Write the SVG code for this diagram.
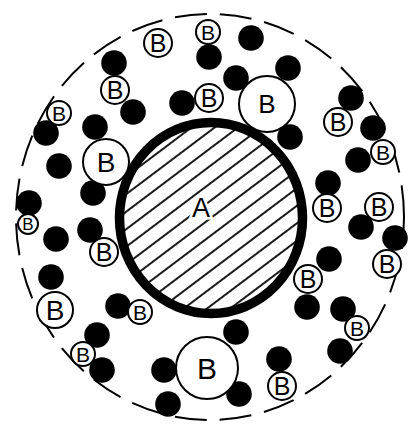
<svg xmlns="http://www.w3.org/2000/svg" width="409" height="424" viewBox="0 0 409 424">
<defs>
<pattern id="hatch" patternUnits="userSpaceOnUse" width="20" height="14" patternTransform="rotate(-37)">
<line x1="0" y1="7" x2="20" y2="7" stroke="#000" stroke-width="1.8"/>
</pattern>
</defs>
<style>
.dot{fill:#000}
.b circle{fill:#fff;stroke:#000;stroke-width:2}
text{font-family:"Liberation Sans",Arial,sans-serif;text-anchor:middle;fill:#000}
</style>
<rect width="409" height="424" fill="#fff"/>
<g id="boundary"><ellipse cx="210" cy="217" rx="194" ry="203" fill="none" stroke="#000" stroke-width="2" stroke-dasharray="32 13"/></g>
<g id="A">
<ellipse cx="211" cy="218" rx="91.5" ry="95.5" fill="url(#hatch)" stroke="#000" stroke-width="9.5"/>
<text x="201" y="217" font-size="27" stroke="#fff" stroke-width="5" paint-order="stroke">A</text>
</g>
<g id="dots">
<circle class="dot" cx="114" cy="63" r="12.8"/>
<circle class="dot" cx="133" cy="112" r="12.8"/>
<circle class="dot" cx="46" cy="133" r="12.8"/>
<circle class="dot" cx="95" cy="127" r="12.8"/>
<circle class="dot" cx="59" cy="166" r="12.8"/>
<circle class="dot" cx="93" cy="193" r="12.8"/>
<circle class="dot" cx="182" cy="103" r="12.8"/>
<circle class="dot" cx="209" cy="57" r="12.8"/>
<circle class="dot" cx="251" cy="38" r="12.8"/>
<circle class="dot" cx="236" cy="78" r="12.8"/>
<circle class="dot" cx="288" cy="68" r="12.8"/>
<circle class="dot" cx="290" cy="137" r="12.8"/>
<circle class="dot" cx="351" cy="98" r="12.8"/>
<circle class="dot" cx="373" cy="128" r="12.8"/>
<circle class="dot" cx="358" cy="160" r="12.8"/>
<circle class="dot" cx="328" cy="183" r="12.8"/>
<circle class="dot" cx="361" cy="227" r="12.8"/>
<circle class="dot" cx="395" cy="238" r="12.8"/>
<circle class="dot" cx="329" cy="259" r="12.8"/>
<circle class="dot" cx="307" cy="307" r="12.8"/>
<circle class="dot" cx="343" cy="309" r="12.8"/>
<circle class="dot" cx="340" cy="351" r="12.8"/>
<circle class="dot" cx="236" cy="332" r="12.8"/>
<circle class="dot" cx="239" cy="394" r="12.8"/>
<circle class="dot" cx="279" cy="359" r="12.8"/>
<circle class="dot" cx="164" cy="370" r="12.8"/>
<circle class="dot" cx="168" cy="404" r="12.8"/>
<circle class="dot" cx="29" cy="203" r="12.8"/>
<circle class="dot" cx="56" cy="239" r="12.8"/>
<circle class="dot" cx="90" cy="230" r="12.8"/>
<circle class="dot" cx="51" cy="277" r="12.8"/>
<circle class="dot" cx="118" cy="306" r="12.8"/>
<circle class="dot" cx="97" cy="335" r="12.8"/>
<circle class="dot" cx="102" cy="370" r="12.8"/>
</g>
<g id="b1" class="b"><circle cx="158" cy="43" r="14"/><text x="158" y="52" font-size="25">B</text></g>
<g id="b2" class="b"><circle cx="208" cy="32" r="12"/><text x="208" y="39.6" font-size="21">B</text></g>
<g id="b3" class="b"><circle cx="115" cy="90" r="14"/><text x="115" y="99" font-size="25">B</text></g>
<g id="b4" class="b"><circle cx="59" cy="113" r="12"/><text x="59" y="120.6" font-size="21">B</text></g>
<g id="b5" class="b"><circle cx="106" cy="162" r="23"/><text x="106" y="172" font-size="28">B</text></g>
<g id="b6" class="b"><circle cx="209" cy="98" r="14"/><text x="209" y="107" font-size="25">B</text></g>
<g id="b7" class="b"><circle cx="267" cy="104" r="28"/><text x="267" y="113.4" font-size="26">B</text></g>
<g id="b8" class="b"><circle cx="338" cy="122" r="14"/><text x="338" y="131" font-size="25">B</text></g>
<g id="b9" class="b"><circle cx="383" cy="152" r="12"/><text x="383" y="159.6" font-size="21">B</text></g>
<g id="b10" class="b"><circle cx="327" cy="208" r="14"/><text x="327" y="217" font-size="25">B</text></g>
<g id="b11" class="b"><circle cx="379" cy="207" r="14"/><text x="379" y="216" font-size="25">B</text></g>
<g id="b12" class="b"><circle cx="387" cy="264" r="14"/><text x="387" y="273" font-size="25">B</text></g>
<g id="b13" class="b"><circle cx="308" cy="279" r="14"/><text x="308" y="288" font-size="25">B</text></g>
<g id="b14" class="b"><circle cx="357" cy="328" r="12"/><text x="357" y="335.6" font-size="21">B</text></g>
<g id="b15" class="b"><circle cx="282" cy="386" r="14"/><text x="282" y="395" font-size="25">B</text></g>
<g id="b16" class="b"><circle cx="207" cy="368" r="31"/><text x="207" y="378.8" font-size="30">B</text></g>
<g id="b17" class="b"><circle cx="140" cy="312" r="12"/><text x="140" y="319.6" font-size="21">B</text></g>
<g id="b18" class="b"><circle cx="28" cy="224" r="10"/><text x="28" y="230.1" font-size="17">B</text></g>
<g id="b19" class="b"><circle cx="104" cy="252" r="14"/><text x="104" y="261" font-size="25">B</text></g>
<g id="b20" class="b"><circle cx="55" cy="310" r="18"/><text x="55" y="320" font-size="28">B</text></g>
<g id="b21" class="b"><circle cx="83" cy="354" r="12"/><text x="83" y="361.6" font-size="21">B</text></g>
</svg>
